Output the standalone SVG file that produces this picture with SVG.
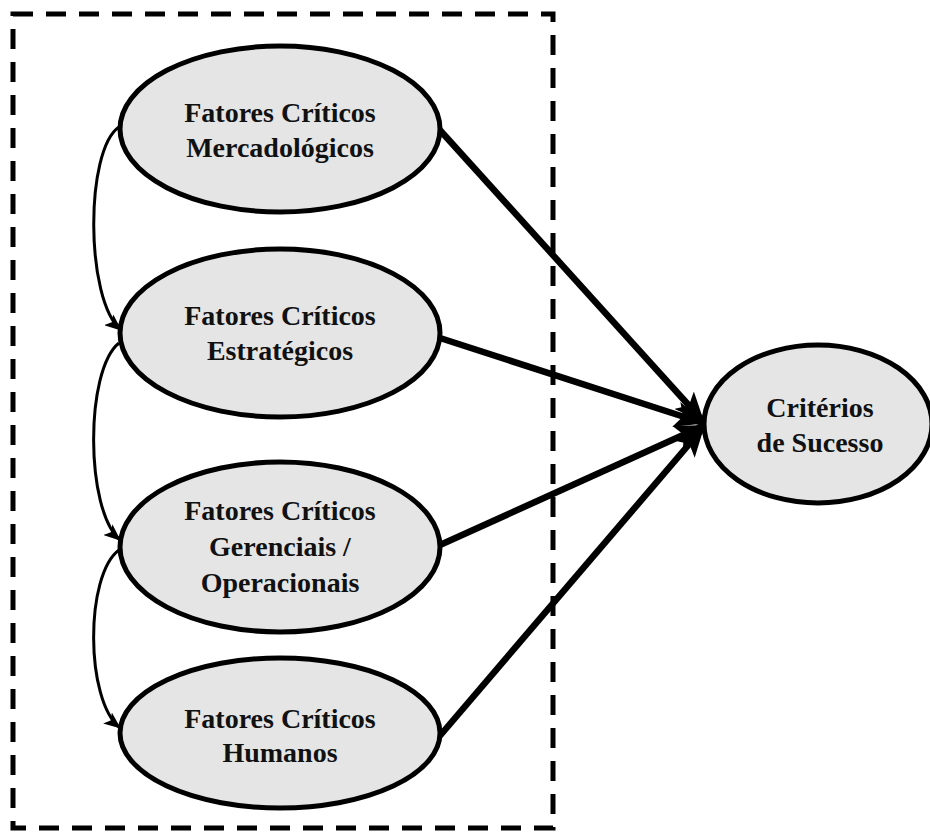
<svg xmlns="http://www.w3.org/2000/svg" width="930" height="832" viewBox="0 0 930 832">
<style>
.node ellipse{fill:#e5e5e5;stroke:#000;stroke-width:5}
.node text{font-family:"Liberation Serif","Times New Roman",serif;font-weight:bold;font-size:28px;fill:#111;text-anchor:middle}
.thick{stroke:#000;stroke-width:6.5;fill:none;marker-end:url(#bigArrow)}
.curve{stroke:#000;stroke-width:3;fill:none;marker-end:url(#smallArrow)}
</style>
<defs>
<marker id="bigArrow" markerUnits="userSpaceOnUse" markerWidth="32" markerHeight="26" refX="28" refY="13" orient="auto">
<path d="M0,0 L30,13 L0,26 L7,13 Z" fill="#000"/>
</marker>
<marker id="smallArrow" markerUnits="userSpaceOnUse" markerWidth="18" markerHeight="14" refX="16" refY="7" orient="auto">
<path d="M0,0 L17,7 L0,14 L4,7 Z" fill="#000"/>
</marker>
</defs>
<rect x="13" y="14" width="540" height="814" fill="none" stroke="#000" stroke-width="5" stroke-dasharray="20,13"/>
<g id="connectors">
<path class="thick" d="M438,128 L703,421"/>
<path class="thick" d="M440,338 L703,423"/>
<path class="thick" d="M440,545 L703,426"/>
<path class="thick" d="M438,738 L703,428"/>
<path class="curve" d="M119,127 C85,150 85,300 121,330"/>
<path class="curve" d="M119,343 C85,370 85,510 120,540"/>
<path class="curve" d="M119,550 C85,575 85,700 120,728"/>
</g>
<g id="n1" class="node">
<ellipse cx="280" cy="129" rx="160" ry="83"/>
<text x="280" y="122">Fatores Críticos</text>
<text x="280" y="157">Mercadológicos</text>
</g>
<g id="n2" class="node">
<ellipse cx="280" cy="333" rx="160" ry="84"/>
<text x="280" y="325">Fatores Críticos</text>
<text x="280" y="360">Estratégicos</text>
</g>
<g id="n3" class="node">
<ellipse cx="280" cy="547" rx="160" ry="85"/>
<text x="280" y="520">Fatores Críticos</text>
<text x="280" y="556">Gerenciais /</text>
<text x="280" y="592">Operacionais</text>
</g>
<g id="n4" class="node">
<ellipse cx="280" cy="733" rx="160" ry="75"/>
<text x="280" y="728">Fatores Críticos</text>
<text x="280" y="762">Humanos</text>
</g>
<g id="n5" class="node">
<ellipse cx="818" cy="424" rx="114" ry="79"/>
<text x="820" y="417">Critérios</text>
<text x="820" y="452">de Sucesso</text>
</g>
</svg>
